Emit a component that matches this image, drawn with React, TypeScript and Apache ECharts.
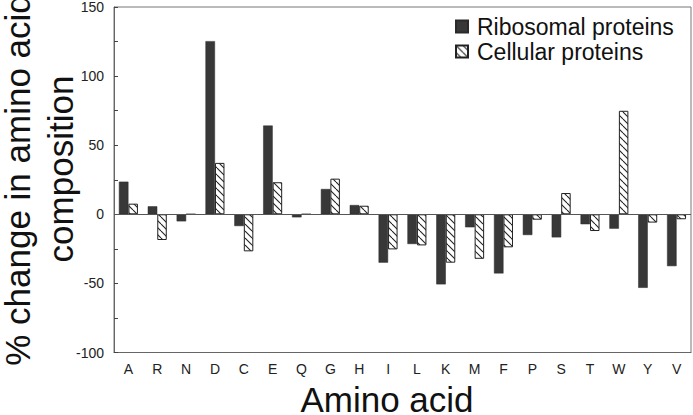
import React, { useEffect, useRef } from "react";
import * as echarts from "echarts";

const categories = ["A", "R", "N", "D", "C", "E", "Q", "G", "H", "I", "L", "K", "M", "F", "P", "S", "T", "W", "Y", "V"];
const ribosomal = [23.6, 5.8, -5.1, 125.3, -8.5, 64.2, -2.2, 18.3, 6.7, -35, -21.5, -50.7, -9.4, -42.8, -15, -16.7, -7.2, -10.4, -53.2, -37.5];
const cellular = [7.7, -18.6, 0, 37.2, -26.8, 23.2, 0, 25.8, 6.2, -25.4, -22.5, -35, -32.2, -23.9, -3.9, 15.4, -12.1, 74.9, -6, -3.6];
const yTickValues = [-100, -50, 0, 50, 100, 150];

const FONT = "'Liberation Sans', Arial, Helvetica, sans-serif";

function makeHatch(): HTMLCanvasElement {
  const s = 7;
  const c = document.createElement("canvas");
  c.width = s;
  c.height = s;
  const ctx = c.getContext("2d")!;
  ctx.fillStyle = "#ffffff";
  ctx.fillRect(0, 0, s, s);
  ctx.strokeStyle = "#222222";
  ctx.lineWidth = 1.1;
  for (const k of [-s, 0, s]) {
    ctx.beginPath();
    ctx.moveTo(k, 0);
    ctx.lineTo(k + s, s);
    ctx.stroke();
  }
  return c;
}

export default function App() {
  const ref = useRef<HTMLDivElement>(null);
  useEffect(() => {
    if (!ref.current) return;
    const chart = echarts.init(ref.current, undefined, { renderer: "svg" });
    const hatch = makeHatch();
    chart.setOption({
      animation: false,
      backgroundColor: "#ffffff",
      textStyle: { fontFamily: FONT },
      grid: {
        left: 114,
        right: 2,
        top: 7,
        bottom: 62.5,
        show: true,
        borderColor: "#777777",
        borderWidth: 1,
        backgroundColor: "transparent",
      },
      legend: {
        orient: "vertical",
        left: 455,
        top: 15,
        padding: 0,
        itemWidth: 12,
        itemHeight: 12,
        itemGap: 2,
        selectedMode: false,
        icon: "rect",
        textStyle: { fontFamily: FONT, fontSize: 23, color: "#111111", lineHeight: 23, padding: [0, 0, 0, 4] },
        data: ["Ribosomal proteins", "Cellular proteins"],
      },
      xAxis: {
        type: "category",
        data: categories,
        axisLine: { onZero: false, lineStyle: { color: "#666666", width: 1 } },
        axisTick: { alignWithLabel: true, inside: true, length: 4, lineStyle: { color: "#444444" } },
        axisLabel: { fontFamily: FONT, fontSize: 14, color: "#222222", margin: 9 },
        splitLine: { show: false },
      },
      yAxis: {
        type: "value",
        min: -100,
        max: 150,
        interval: 25,
        axisLine: { show: true, lineStyle: { color: "#666666", width: 1 } },
        axisTick: { show: true, inside: true, length: 4, lineStyle: { color: "#444444" } },
        axisLabel: {
          fontFamily: FONT,
          fontSize: 14,
          color: "#222222",
          margin: 10,
          formatter: (v: number) => (yTickValues.indexOf(v) >= 0 ? String(v) : ""),
        },
        splitLine: { show: false },
      },
      graphic: [
        {
          type: "text",
          x: 17,
          y: 180,
          rotation: Math.PI / 2,
          style: {
            text: "% change in amino acid",
            font: `35px ${FONT}`,
            fill: "#111111",
            textAlign: "center",
            textVerticalAlign: "middle",
          },
        },
        {
          type: "text",
          x: 60,
          y: 169,
          rotation: Math.PI / 2,
          style: {
            text: "composition",
            font: `35px ${FONT}`,
            fill: "#111111",
            textAlign: "center",
            textVerticalAlign: "middle",
          },
        },
        {
          type: "text",
          x: 387,
          y: 399,
          style: {
            text: "Amino acid",
            font: `35px ${FONT}`,
            fill: "#111111",
            textAlign: "center",
            textVerticalAlign: "middle",
          },
        },
      ],
      series: [
        {
          name: "Ribosomal proteins",
          type: "bar",
          data: ribosomal,
          barWidth: 9.5,
          barGap: "0%",
          itemStyle: { color: "#383838", borderColor: "#2a2a2a", borderWidth: 0.5 },
          markLine: {
            silent: true,
            symbol: "none",
            label: { show: false },
            lineStyle: { color: "#555555", width: 1, type: "solid" },
            data: [{ yAxis: 0 }],
          },
          z: 2,
        },
        {
          name: "Cellular proteins",
          type: "bar",
          data: cellular,
          barWidth: 9.5,
          barGap: "0%",
          itemStyle: {
            color: { image: hatch, repeat: "repeat" },
            borderColor: "#222222",
            borderWidth: 1,
          },
          z: 2,
        },
      ],
    });
    return () => chart.dispose();
  }, []);
  return (
    <div
      ref={ref}
      style={{ position: "fixed", left: 0, top: 0, width: 693, height: 415, background: "#fff" }}
    />
  );
}
